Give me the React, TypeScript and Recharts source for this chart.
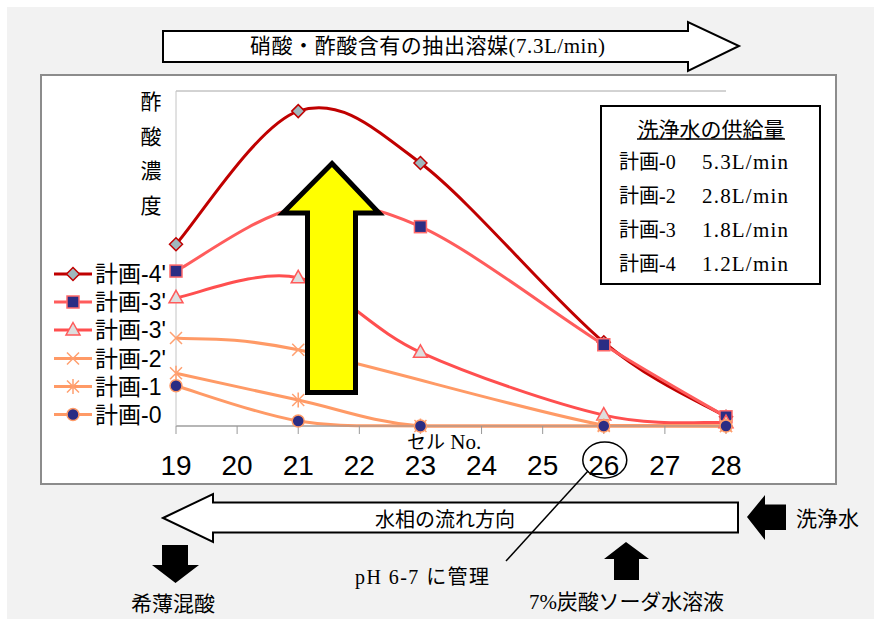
import { CartesianGrid, Line, LineChart, XAxis, YAxis } from 'recharts';

// セル番号ごとの酢酸濃度（相対値）
const cells = [19, 21, 23, 26, 28];
const cellTicks = [19, 20, 21, 22, 23, 24, 25, 26, 27, 28];
const levelTicks = [0, 1, 2, 3, 4];

const plan4dash = [2.17, 3.76, 3.14, 1.0, 0.11];
const plan3dashSquare = [1.85, 2.61, 2.38, 0.97, 0.11];
const plan3dashTriangle = [1.53, 1.77, 0.88, 0.13, 0.04];
const plan2dash = [1.05, 0.91, null, 0.01, 0];
const plan1 = [0.63, 0.31, 0, 0, 0];
const plan0 = [0.48, 0.06, 0, 0, 0];

const seriesLabels = ["計画-4'", "計画-3'", "計画-3'", "計画-2'", '計画-1', '計画-0'];

// 洗浄水の供給量
const supplyPlans = ['計画-0', '計画-2', '計画-3', '計画-4'];
const supplyRates = ['5.3L/min', '2.8L/min', '1.8L/min', '1.2L/min'];

const yLabelChars = ['酢', '酸', '濃', '度'];

const GOTHIC = "'Noto Sans CJK JP', sans-serif";
const MIXED = "'Liberation Serif', 'Noto Sans CJK JP', serif";
const SANS = "'Liberation Sans', 'Noto Sans CJK JP', sans-serif";

type MarkerKind = 'diamond' | 'square' | 'triangle' | 'cross' | 'star' | 'circle';

const series: {
  key: string;
  values: (number | null)[];
  color: string;
  marker: MarkerKind;
  fill: string;
  edge: string;
}[] = [
  { key: 'p4d', values: plan4dash, color: '#c00000', marker: 'diamond', fill: '#9fb8bd', edge: '#c00000' },
  { key: 'p3ds', values: plan3dashSquare, color: '#ff5c5c', marker: 'square', fill: '#2b2d84', edge: '#ff6a6a' },
  { key: 'p3dt', values: plan3dashTriangle, color: '#ff4f4f', marker: 'triangle', fill: '#dedede', edge: '#ff5a5a' },
  { key: 'p2d', values: plan2dash, color: '#ff9a66', marker: 'cross', fill: 'none', edge: '#ffa070' },
  { key: 'p1', values: plan1, color: '#ff9a66', marker: 'star', fill: 'none', edge: '#ffa070' },
  { key: 'p0', values: plan0, color: '#ff9a66', marker: 'circle', fill: '#2b2d84', edge: '#ff9a66' },
];

const data = cells.map((cell, i) => {
  const row: Record<string, number | null> = { cell };
  series.forEach((s) => {
    row[s.key] = s.values[i];
  });
  return row;
});

// Excel風のスムージング（端点は複製した Catmull-Rom、ほぼ水平な区間は平らに保つ）
function smoothCurve(context: any) {
  let pts: number[][] = [];
  return {
    areaStart() {},
    areaEnd() {},
    lineStart() {
      pts = [];
    },
    point(x: number, y: number) {
      pts.push([+x, +y]);
    },
    lineEnd() {
      const n = pts.length;
      if (!n) return;
      context.moveTo(pts[0][0], pts[0][1]);
      for (let i = 0; i < n - 1; i++) {
        const p0 = pts[Math.max(i - 1, 0)];
        const p1 = pts[i];
        const p2 = pts[i + 1];
        const p3 = pts[Math.min(i + 2, n - 1)];
        const flat = Math.abs(p2[1] - p1[1]) < 2;
        context.bezierCurveTo(
          p1[0] + (p2[0] - p0[0]) / 6,
          flat ? p1[1] : p1[1] + (p2[1] - p0[1]) / 6,
          p2[0] - (p3[0] - p1[0]) / 6,
          flat ? p2[1] : p2[1] - (p3[1] - p1[1]) / 6,
          p2[0],
          p2[1],
        );
      }
    },
  };
}

function Marker({ kind, cx, cy, fill, edge }: { kind: MarkerKind; cx: number; cy: number; fill: string; edge: string }) {
  switch (kind) {
    case 'diamond':
      return (
        <polygon
          points={`${cx},${cy - 6.5} ${cx + 6.5},${cy} ${cx},${cy + 6.5} ${cx - 6.5},${cy}`}
          fill={fill}
          stroke={edge}
          strokeWidth={1.5}
        />
      );
    case 'square':
      return <rect x={cx - 6} y={cy - 6} width={12} height={12} fill={fill} stroke={edge} strokeWidth={1.5} />;
    case 'triangle':
      return (
        <polygon
          points={`${cx},${cy - 7.5} ${cx + 7},${cy + 5} ${cx - 7},${cy + 5}`}
          fill={fill}
          stroke={edge}
          strokeWidth={1.5}
        />
      );
    case 'cross':
      return (
        <path
          d={`M${cx - 6},${cy - 6}L${cx + 6},${cy + 6}M${cx - 6},${cy + 6}L${cx + 6},${cy - 6}`}
          stroke={edge}
          strokeWidth={1.5}
        />
      );
    case 'star':
      return (
        <path
          d={`M${cx - 6},${cy - 6}L${cx + 6},${cy + 6}M${cx - 6},${cy + 6}L${cx + 6},${cy - 6}M${cx},${cy - 7.5}L${cx},${cy + 7.5}`}
          stroke={edge}
          strokeWidth={1.5}
        />
      );
    default:
      return <circle cx={cx} cy={cy} r={6} fill={fill} stroke={edge} strokeWidth={1.5} />;
  }
}

function CellTick({ x, y, payload }: any) {
  const v = payload.value;
  return (
    <g>
      <text x={x} y={y + 39} textAnchor="middle" fontFamily={SANS} fontSize={28} fill="#000">
        {v}
      </text>
      {v === 26 && <ellipse cx={x + 1} cy={y + 24} rx={22} ry={18} fill="none" stroke="#000" strokeWidth={1.5} />}
    </g>
  );
}

function Overlay() {
  const legendY = [274, 302, 330, 358.5, 386.5, 414.5];
  return (
    <svg
      width={874}
      height={620}
      style={{ position: 'absolute', left: 0, top: 0, pointerEvents: 'none' }}
    >
      {/* 抽出溶媒の流れ */}
      <path
        d="M163,31 L688,31 L688,22 L739,46 L688,71 L688,62 L163,62 Z"
        fill="#fff"
        stroke="#000"
        strokeWidth={2}
      />
      <text x={250} y={46} dominantBaseline="central" fontFamily={MIXED} fontSize={21} textLength={355} lengthAdjust="spacing">
        硝酸・酢酸含有の抽出溶媒(7.3L/min)
      </text>

      {/* 縦軸ラベル */}
      {yLabelChars.map((ch, i) => (
        <text key={ch} x={151} y={100 + i * 34.5} textAnchor="middle" dominantBaseline="central" fontFamily={GOTHIC} fontSize={21}>
          {ch}
        </text>
      ))}

      {/* 凡例 */}
      {series.map((s, i) => (
        <g key={s.key}>
          <line x1={54} x2={92} y1={legendY[i]} y2={legendY[i]} stroke={s.color} strokeWidth={3} />
          <Marker kind={s.marker} cx={73} cy={legendY[i]} fill={s.fill} edge={s.edge} />
          <text x={95} y={legendY[i]} dominantBaseline="central" fontFamily={SANS} fontSize={23}>
            {seriesLabels[i]}
          </text>
        </g>
      ))}

      <text x={407} y={442} dominantBaseline="central" fontFamily={MIXED} fontSize={19}>
        セル<tspan fontSize={21}> No.</tspan>
      </text>

      {/* 濃度上昇の矢印 */}
      <path
        d="M332,163.5 L379,213 L355.5,213 L355.5,392.5 L307.5,392.5 L307.5,213 L283,213 Z"
        fill="#ffff00"
        stroke="#000"
        strokeWidth={5}
      />

      {/* 洗浄水の供給量 */}
      <rect x={601} y={106} width={219} height={178} fill="#fff" stroke="#000" strokeWidth={2} />
      <text x={711} y={128} textAnchor="middle" dominantBaseline="central" fontFamily={GOTHIC} fontSize={21}>
        洗浄水の供給量
      </text>
      <line x1={637} x2={785} y1={139} y2={139} stroke="#000" strokeWidth={1.5} />
      {supplyPlans.map((p, i) => (
        <g key={p}>
          <text x={619} y={162 + i * 34} dominantBaseline="central" fontFamily={MIXED} fontSize={20}>
            {p}
          </text>
          <text x={702} y={162 + i * 34} dominantBaseline="central" fontFamily={MIXED} fontSize={21} textLength={86} lengthAdjust="spacing">
            {supplyRates[i]}
          </text>
        </g>
      ))}

      {/* 水相の流れ */}
      <path
        d="M163,518 L213,494 L213,502.5 L738,502.5 L738,532.5 L213,532.5 L213,542 Z"
        fill="#fff"
        stroke="#000"
        strokeWidth={2}
      />
      <text x={445} y={518} textAnchor="middle" dominantBaseline="central" fontFamily={GOTHIC} fontSize={20}>
        水相の流れ方向
      </text>

      <path d="M747,517 L765,495 L765,504.5 L786,504.5 L786,530 L765,530 L765,540 Z" fill="#000" />
      <text x={796} y={517} dominantBaseline="central" fontFamily={GOTHIC} fontSize={21}>
        洗浄水
      </text>

      <path d="M162,545 L188,545 L188,565 L199,565 L175.5,583 L152,565 L162,565 Z" fill="#000" />
      <text x={173} y={602} textAnchor="middle" dominantBaseline="central" fontFamily={GOTHIC} fontSize={21}>
        希薄混酸
      </text>

      <path d="M626,542 L649,559 L639,559 L639,580 L614,580 L614,559 L604,559 Z" fill="#000" />
      <text x={529} y={602} dominantBaseline="central" fontFamily={MIXED} fontSize={21} textLength={195} lengthAdjust="spacing">
        7%炭酸ソーダ水溶液
      </text>

      <line x1={588} y1={471} x2={506} y2={561} stroke="#000" strokeWidth={1.5} />
      <text x={355} y={577} dominantBaseline="central" fontFamily={MIXED} fontSize={20} textLength={134} lengthAdjust="spacing">
        pH 6-7 に管理
      </text>
    </svg>
  );
}

export default function App() {
  return (
    <div style={{ position: 'absolute', left: 0, top: 0, width: 874, height: 620, background: '#fff' }}>
      <div style={{ position: 'absolute', left: 7, top: 7, width: 867, height: 612, background: '#f2f2f2' }} />
      <div
        style={{
          position: 'absolute',
          left: 40,
          top: 74,
          width: 797,
          height: 411,
          background: '#fff',
          border: '2px solid #8c8c8c',
          boxSizing: 'border-box',
        }}
      />
      <div style={{ position: 'absolute', left: 0, top: 0 }}>
        <LineChart width={874} height={620} data={data} margin={{ top: 91, right: 148, bottom: 134, left: 156 }}>
          <CartesianGrid vertical={false} stroke="#a6a6a6" strokeWidth={1} />
          <XAxis
            dataKey="cell"
            type="number"
            domain={[19, 28]}
            ticks={cellTicks}
            interval={0}
            height={60}
            tickSize={8}
            tickMargin={2}
            axisLine={{ stroke: '#999' }}
            tickLine={{ stroke: '#999' }}
            tick={<CellTick />}
          />
          <YAxis
            type="number"
            domain={[0, 4]}
            ticks={levelTicks}
            width={20}
            tickSize={10}
            tick={false}
            axisLine={{ stroke: '#c4c4c4' }}
            tickLine={{ stroke: '#999' }}
          />
          {series.map((s) => (
            <Line
              key={s.key}
              dataKey={s.key}
              type={smoothCurve as any}
              stroke={s.color}
              strokeWidth={3}
              connectNulls
              isAnimationActive={false}
              activeDot={false}
              dot={(props: any) =>
                props.value == null || props.cy == null ? (
                  <g key={`${s.key}-${props.index}`} />
                ) : (
                  <Marker key={`${s.key}-${props.index}`} kind={s.marker} cx={props.cx} cy={props.cy} fill={s.fill} edge={s.edge} />
                )
              }
            />
          ))}
        </LineChart>
      </div>
      <Overlay />
    </div>
  );
}
